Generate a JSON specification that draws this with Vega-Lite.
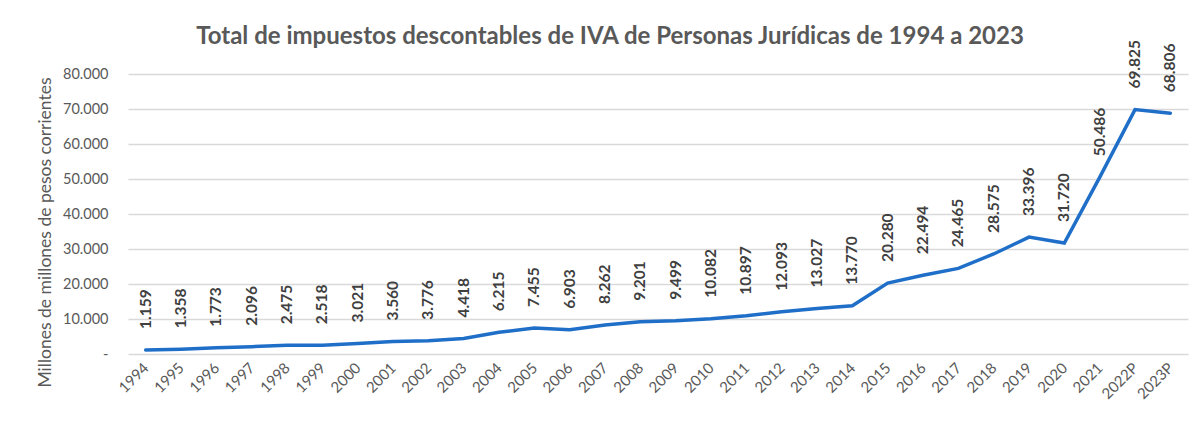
{
  "$schema": "https://vega.github.io/schema/vega-lite/v6.json",
  "autosize": {"type": "none"},
  "width": 1060,
  "height": 280,
  "padding": {"left": 128, "top": 74, "right": 13, "bottom": 67},
  "background": "white",
  "title": {
    "text": "Total de impuestos descontables de IVA de Personas Jurídicas de 1994 a 2023",
    "font": "Lato",
    "fontSize": 24,
    "fontWeight": "bold",
    "color": "#595959",
    "anchor": "middle",
    "frame": "group",
    "dx": -48,
    "offset": -9
  },
  "config": {
    "view": {"stroke": null},
    "font": "Lato",
    "locale": {
      "number": {"decimal": ",", "thousands": ".", "grouping": [3], "currency": ["$", ""]}
    }
  },
  "data": {
    "values": [
      {"anio": "1994", "valor": 1159},
      {"anio": "1995", "valor": 1358},
      {"anio": "1996", "valor": 1773},
      {"anio": "1997", "valor": 2096},
      {"anio": "1998", "valor": 2475},
      {"anio": "1999", "valor": 2518},
      {"anio": "2000", "valor": 3021},
      {"anio": "2001", "valor": 3560},
      {"anio": "2002", "valor": 3776},
      {"anio": "2003", "valor": 4418},
      {"anio": "2004", "valor": 6215},
      {"anio": "2005", "valor": 7455},
      {"anio": "2006", "valor": 6903},
      {"anio": "2007", "valor": 8262},
      {"anio": "2008", "valor": 9201},
      {"anio": "2009", "valor": 9499},
      {"anio": "2010", "valor": 10082},
      {"anio": "2011", "valor": 10897},
      {"anio": "2012", "valor": 12093},
      {"anio": "2013", "valor": 13027},
      {"anio": "2014", "valor": 13770},
      {"anio": "2015", "valor": 20280},
      {"anio": "2016", "valor": 22494},
      {"anio": "2017", "valor": 24465},
      {"anio": "2018", "valor": 28575},
      {"anio": "2019", "valor": 33396},
      {"anio": "2020", "valor": 31720},
      {"anio": "2021", "valor": 50486},
      {"anio": "2022P", "valor": 69825},
      {"anio": "2023P", "valor": 68806}
    ]
  },
  "encoding": {
    "x": {
      "field": "anio",
      "type": "ordinal",
      "sort": null,
      "scale": {"type": "point", "padding": 0.5},
      "axis": {
        "title": null,
        "labelAngle": -45,
        "labelAlign": "right",
        "labelBaseline": "middle",
        "labelPadding": 11,
        "labelFont": "Lato",
        "labelFontSize": 15,
        "labelColor": "#595959",
        "domain": false,
        "ticks": false,
        "grid": false
      }
    },
    "y": {
      "field": "valor",
      "type": "quantitative",
      "scale": {"domain": [0, 80000], "nice": false},
      "axis": {
        "title": "Millones de millones de pesos corrientes",
        "titleFont": "Lato",
        "titleFontSize": 17.5,
        "titleFontWeight": "normal",
        "titleColor": "#595959",
        "titleAngle": -90,
        "titleAlign": "center",
        "titleBaseline": "middle",
        "titleX": -83,
        "titleY": 158,
        "values": [0, 10000, 20000, 30000, 40000, 50000, 60000, 70000, 80000],
        "labelExpr": "datum.value == 0 ? '-' : format(datum.value, ',d')",
        "labelFont": "Lato",
        "labelFontSize": 14.5,
        "labelColor": "#595959",
        "labelPadding": 20,
        "domain": false,
        "ticks": false,
        "grid": true,
        "gridColor": "#D9D9D9",
        "gridWidth": 1.3
      }
    }
  },
  "layer": [
    {
      "mark": {"type": "line", "color": "#1F6FC9", "strokeWidth": 3.5, "strokeCap": "round"}
    },
    {
      "mark": {
        "type": "text",
        "angle": -90,
        "align": "left",
        "baseline": "middle",
        "dx": 21,
        "font": "Lato",
        "fontSize": 15.5,
        "fontWeight": "bold",
        "color": "#404040"
      },
      "encoding": {
        "text": {"field": "valor", "type": "quantitative", "format": ",d"}
      }
    }
  ]
}
